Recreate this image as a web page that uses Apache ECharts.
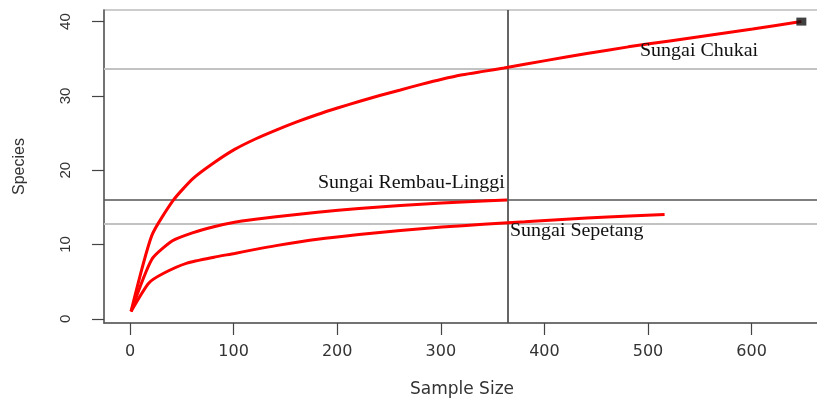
<!DOCTYPE html>
<html><head><meta charset="utf-8">
<script src="https://cdn.jsdelivr.net/npm/echarts@6/dist/echarts.min.js"></script>
<style>html,body{margin:0;padding:0;background:#fff}#c{width:817px;height:403px}</style>
</head><body><div id="c"></div>
<script>
// Rarefaction curves: sample size vs species
const sampleChukai  = [1, 21, 42, 61, 81, 101, 121, 141, 161, 181, 201, 221, 241, 261, 281, 301, 321, 341, 361, 401, 441, 481, 521, 561, 601, 648];
const speciesChukai = [1, 11.2, 16.0, 18.9, 21.0, 22.8, 24.2, 25.4, 26.5, 27.5, 28.4, 29.25, 30.05, 30.8, 31.55, 32.25, 32.85, 33.3, 33.75, 34.75, 35.7, 36.6, 37.4, 38.2, 39.0, 40];
const sampleRembau  = [1, 21, 41, 61, 81, 101, 121, 141, 181, 221, 261, 301, 341, 364];
const speciesRembau = [1, 8.0, 10.5, 11.6, 12.4, 13.0, 13.4, 13.75, 14.35, 14.85, 15.25, 15.6, 15.85, 16.0];
const sampleSepetang  = [1, 18, 32, 55, 81, 101, 121, 141, 181, 221, 261, 301, 341, 381, 421, 461, 516];
const speciesSepetang = [1, 4.8, 6.1, 7.5, 8.3, 8.8, 9.35, 9.85, 10.7, 11.35, 11.9, 12.35, 12.72, 13.05, 13.4, 13.7, 14.05];
const siteNames = ['Sungai Chukai', 'Sungai Rembau-Linggi', 'Sungai Sepetang'];
// reference lines at the common sample size
const refSample = 365;
const refSpeciesLight = [33.7, 12.8];
const refSpeciesDark = [16.0];
const xTicks = [0, 100, 200, 300, 400, 500, 600];
const yTicks = [0, 10, 20, 30, 40];

const pairs = (xs, ys) => xs.map((x, i) => [x, ys[i]]);
const chart = echarts.init(document.getElementById('c'), null, {renderer: 'canvas'});
const sansNarrow = '"Liberation Sans", Arial, sans-serif';
const sansWide = '"DejaVu Sans", sans-serif';
const red = '#ff0000';
const lineSeries = (name, xs, ys) => ({
  name, type: 'line', data: pairs(xs, ys), showSymbol: false, symbol: 'none',
  smooth: 0.2,
  lineStyle: {color: red, width: 3}, z: 5, animation: false
});
const serifLabel = (text, left, top) => ({
  type: 'text', left, top, z: 10, scaleX: 1.05,
  style: {text, font: '19px "Liberation Serif", serif', fill: '#111'}
});
chart.setOption({
  animation: false,
  grid: {left: 104, top: 10, width: 716, height: 313, outerBoundsMode: 'none', containLabel: false,
         show: true, borderColor: '#bdbdbd', borderWidth: 1.5},
  xAxis: {
    type: 'value', min: -25.1, max: 666.0,
    splitLine: {show: false},
    axisLine: {show: true, onZero: false, lineStyle: {color: '#555', width: 1.5}},
    axisTick: {show: true, customValues: xTicks, length: 12, lineStyle: {color: '#444', width: 1.2}},
    axisLabel: {customValues: xTicks, color: '#333', fontSize: 16, fontFamily: sansWide, margin: 21},
    name: 'Sample Size', nameLocation: 'middle', nameGap: 58,
    nameTextStyle: {color: '#333', fontSize: 17, fontFamily: sansWide}
  },
  yAxis: {
    type: 'value', min: -0.56, max: 41.56,
    splitLine: {show: false},
    axisLine: {show: true, onZero: false, lineStyle: {color: '#555', width: 1.5}},
    axisTick: {show: true, customValues: yTicks, length: 12, lineStyle: {color: '#444', width: 1.2}},
    axisLabel: {customValues: yTicks, color: '#333', fontSize: 15, fontFamily: sansNarrow, margin: 31, rotate: 90},
    name: 'Species', nameLocation: 'middle', nameGap: 76, nameRotate: 90,
    nameTextStyle: {color: '#333', fontSize: 16, fontFamily: sansNarrow}
  },
  series: [
    {
      type: 'line', data: [], z: 2,
      markLine: {
        silent: true, symbol: 'none', label: {show: false}, animation: false,
        data: [
          ...refSpeciesLight.map(v => ({yAxis: v, lineStyle: {color: '#c2c2c2', width: 2, type: 'solid'}})),
          ...refSpeciesDark.map(v => ({yAxis: v, lineStyle: {color: '#555', width: 1.5, type: 'solid'}})),
          {xAxis: refSample, lineStyle: {color: '#555', width: 1.8, type: 'solid'}}
        ]
      }
    },
    lineSeries(siteNames[0], sampleChukai, speciesChukai),
    lineSeries(siteNames[1], sampleRembau, speciesRembau),
    lineSeries(siteNames[2], sampleSepetang, speciesSepetang),
    {
      type: 'scatter', z: 6, symbol: 'rect', symbolSize: [10, 8],
      itemStyle: {color: '#111'},
      data: [[sampleChukai[sampleChukai.length - 1], speciesChukai[speciesChukai.length - 1]]]
    }
  ],
  graphic: [
    serifLabel(siteNames[0], 640, 42),
    serifLabel(siteNames[1], 318, 174),
    serifLabel(siteNames[2], 510, 222)
  ]
});
</script>
</body></html>
